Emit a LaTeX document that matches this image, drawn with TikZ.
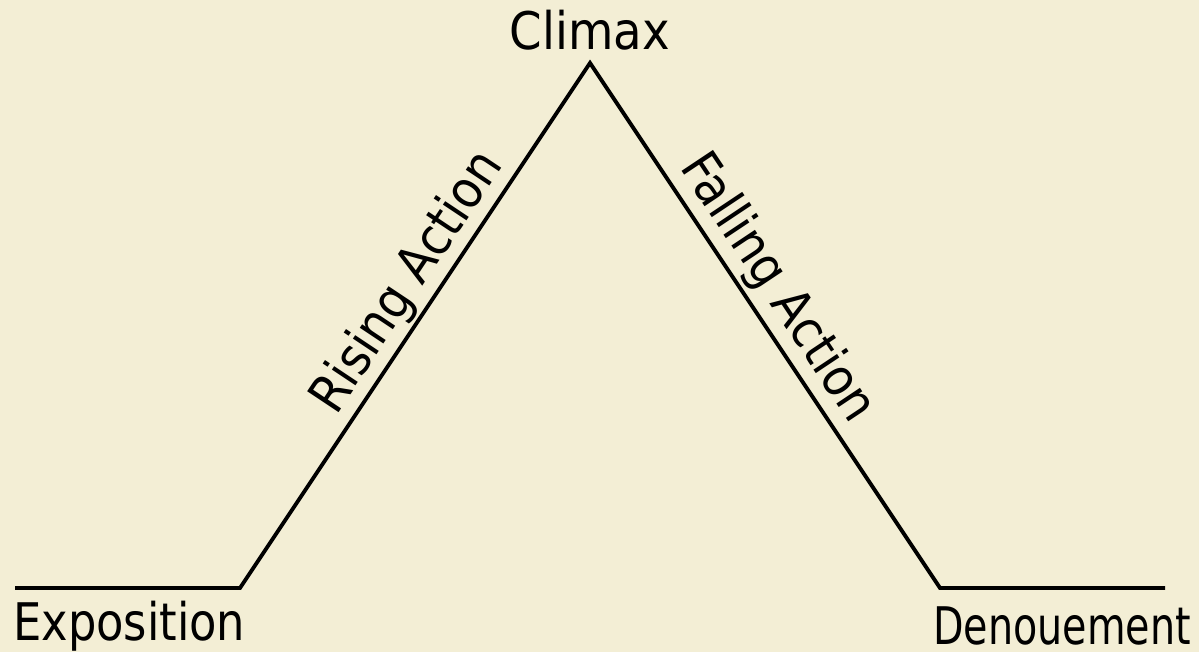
\documentclass[tikz,border=0pt]{standalone}
\usepackage{fontspec}
\setmainfont{DejaVu Sans Condensed}
\usepackage{tikz}
\usetikzlibrary{positioning}
\definecolor{paper}{RGB}{243,238,213}

\begin{document}
\begin{tikzpicture}[x=0.02cm,y=-0.02cm,
  plot/.style={line width=2.2pt,line join=miter},
  lab/.style={font=\fontsize{29.5}{32}\selectfont,inner sep=0pt}]
\fill[paper] (0,0) rectangle (1199,652);
\useasboundingbox (0,0) rectangle (1199,652);
\coordinate (e0) at (15,588);
\coordinate (e1) at (240,588);
\coordinate (top) at (590,63);
\coordinate (d0) at (940,588);
\coordinate (d1) at (1165,588);
\draw[plot] (e0) -- (e1) -- (top) -- (d0) -- (d1);
\node[lab,anchor=base] (climax) at (590,50) {Climax};
\node[lab,anchor=base west,xscale=0.96,text depth=0pt] (expo) at (13,640) {Exposition};
\node[lab,anchor=base east,xscale=0.85,text depth=0pt] (deno) at (1191,644) {Denouement};
\path (e1) -- node[lab,pos=0.55,sloped,above=0.8mm] (rise) {Rising Action} (top);
\path (top) -- node[lab,pos=0.462,sloped,above=1mm] (fall) {Falling Action} (d0);
\end{tikzpicture}
\end{document}
